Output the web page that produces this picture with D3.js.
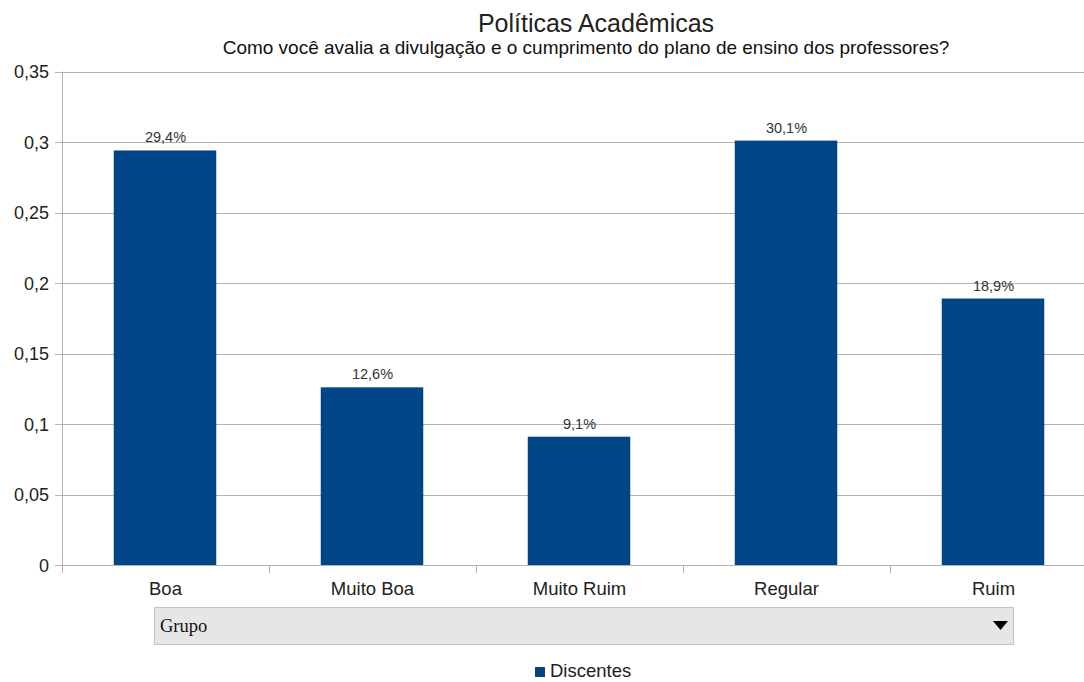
<!DOCTYPE html>
<html>
<head>
<meta charset="utf-8">
<script src="https://cdn.jsdelivr.net/npm/d3@7"></script>
<style>
  body { margin: 0; background: #fff; }
  svg text { font-family: "Liberation Sans", Arial, sans-serif; }
</style>
</head>
<body>
<div id="chart"></div>
<script>
const categories = ['Boa', 'Muito Boa', 'Muito Ruim', 'Regular', 'Ruim'];
const discentes = [0.294, 0.126, 0.091, 0.301, 0.189];
const yTicks = [0, 0.05, 0.1, 0.15, 0.2, 0.25, 0.3, 0.35];

const W = 1084, H = 682;
const margin = {top: 71.5, left: 62, bottom: 117, right: -13};
const fmt = v => String(v).replace('.', ',');
const pct = v => (v * 100).toFixed(1).replace('.', ',') + '%';

const svg = d3.select('#chart').append('svg')
    .attr('width', W).attr('height', H);

const x = d3.scaleBand()
    .domain(categories)
    .range([margin.left, W - margin.right])
    .paddingInner(0.5)
    .paddingOuter(0.25);

const y = d3.scaleLinear()
    .domain([0, 0.35])
    .range([H - margin.bottom, margin.top]);

// title
svg.append('text')
    .attr('x', 596).attr('y', 32)
    .attr('text-anchor', 'middle')
    .style('font-size', '25px').attr('fill', '#222')
    .text('Políticas Acadêmicas');
svg.append('text')
    .attr('x', 586).attr('y', 54)
    .attr('text-anchor', 'middle')
    .style('font-size', '19px').attr('fill', '#111')
    .text('Como você avalia a divulgação e o cumprimento do plano de ensino dos professores?');

// gridlines
svg.append('g')
    .selectAll('line')
    .data(yTicks)
    .join('line')
    .attr('x1', margin.left - 7).attr('x2', W)
    .attr('y1', d => Math.round(y(d)) + 0.5).attr('y2', d => Math.round(y(d)) + 0.5)
    .attr('stroke', '#b3b3b3');

// y labels
svg.append('g')
    .selectAll('text')
    .data(yTicks)
    .join('text')
    .attr('x', margin.left - 13)
    .attr('y', d => y(d) + 6.5)
    .attr('text-anchor', 'end')
    .style('font-size', '18px').attr('fill', '#222')
    .text(d => fmt(d));

// y axis line
svg.append('line')
    .attr('x1', margin.left + 0.5).attr('x2', margin.left + 0.5)
    .attr('y1', y(0.35)).attr('y2', y(0) + 7)
    .attr('stroke', '#b3b3b3');

// x category ticks
const bounds = categories.map(c => x(c) - x.step() * 0.25);
svg.append('g')
    .selectAll('line')
    .data(bounds)
    .join('line')
    .attr('x1', d => Math.round(d) + 0.5).attr('x2', d => Math.round(d) + 0.5)
    .attr('y1', y(0)).attr('y2', y(0) + 8)
    .attr('stroke', '#b3b3b3');

// bars
svg.append('g')
    .selectAll('rect')
    .data(discentes)
    .join('rect')
    .attr('x', (d, i) => x(categories[i]))
    .attr('y', d => y(d))
    .attr('width', x.bandwidth() - 1)
    .attr('height', d => y(0) - y(d))
    .attr('fill', '#004586');

// value labels
svg.append('g')
    .selectAll('text')
    .data(discentes)
    .join('text')
    .attr('x', (d, i) => x(categories[i]) + x.bandwidth() / 2)
    .attr('y', d => y(d) - 8)
    .attr('text-anchor', 'middle')
    .style('font-size', '14.5px').attr('fill', '#333')
    .text(d => pct(d));

// category labels
svg.append('g')
    .selectAll('text')
    .data(categories)
    .join('text')
    .attr('x', d => x(d) + x.bandwidth() / 2)
    .attr('y', y(0) + 30)
    .attr('text-anchor', 'middle')
    .style('font-size', '18.5px').attr('fill', '#222')
    .text(d => d);

// grupo field
svg.append('rect')
    .attr('x', 154.5).attr('y', 607.5)
    .attr('width', 859).attr('height', 37)
    .attr('fill', '#e6e6e6').attr('stroke', '#c4c4c4');
svg.append('text')
    .attr('x', 160).attr('y', 632)
    .style('font-family', '"Liberation Serif", "DejaVu Serif", serif')
    .style('font-size', '18.5px').attr('fill', '#111')
    .text('Grupo');
svg.append('path')
    .attr('d', 'M993,621 L1008,621 L1000.5,630 Z')
    .attr('fill', '#000');

// legend
svg.append('rect')
    .attr('x', 535).attr('y', 667)
    .attr('width', 10).attr('height', 10)
    .attr('fill', '#004586');
svg.append('text')
    .attr('x', 550).attr('y', 677)
    .style('font-size', '18.5px').attr('fill', '#222')
    .text('Discentes');
</script>
</body>
</html>
